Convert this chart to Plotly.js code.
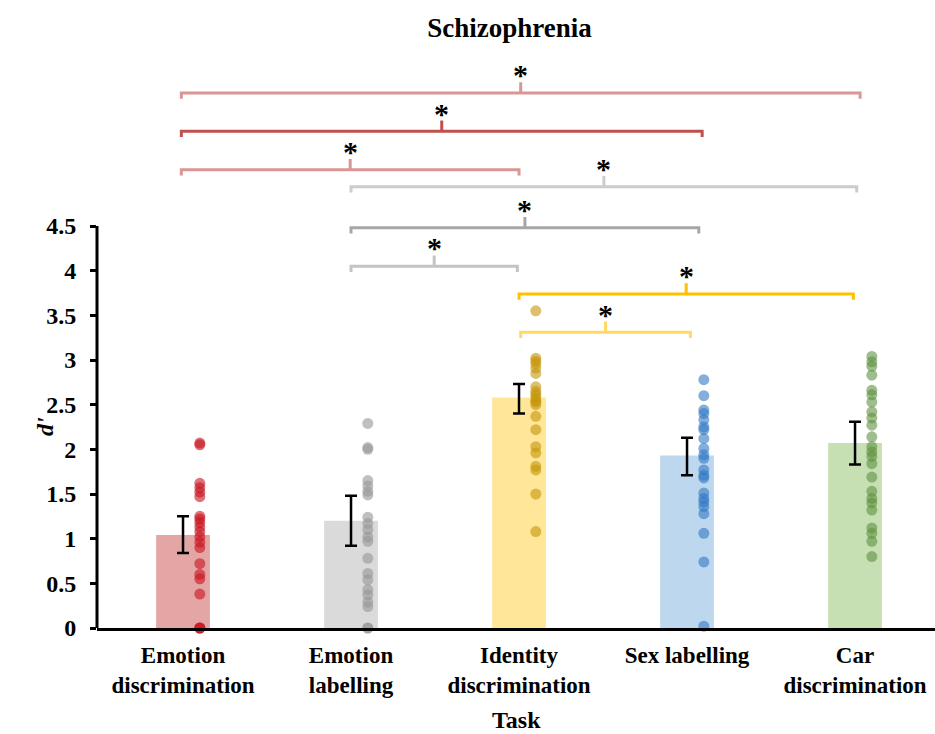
<!DOCTYPE html>
<html>
<head>
<meta charset="utf-8">
<script src="https://cdn.plot.ly/plotly-3.0.1.min.js"></script>
<style>html,body{margin:0;padding:0;background:#fff;}#chart{width:935px;height:734px;}</style>
</head>
<body>
<div id="chart"></div>
<script>
// ---- data ----
var categories = ["Emotion<br>discrimination", "Emotion<br>labelling", "Identity<br>discrimination", "Sex labelling", "Car<br>discrimination"];
var means = [1.04, 1.20, 2.58, 1.93, 2.07];
var errPlus = [0.21, 0.28, 0.15, 0.20, 0.24];
var errMinus = [0.20, 0.28, 0.18, 0.22, 0.24];

var emotionDiscrimination = [2.07, 2.05, 1.62, 1.57, 1.52, 1.47, 1.25, 1.22, 1.18, 1.13, 1.08, 1.02, 0.96, 0.90, 0.72, 0.60, 0.55, 0.38, 0, 0, 0];
var emotionLabelling = [2.29, 2.02, 2.00, 1.65, 1.59, 1.53, 1.49, 1.24, 1.17, 1.10, 1.02, 0.97, 0.78, 0.61, 0.54, 0.43, 0.37, 0.29, 0.24, 0, 0];
var identityDiscrimination = [3.55, 3.02, 2.99, 2.96, 2.91, 2.85, 2.70, 2.65, 2.62, 2.59, 2.55, 2.53, 2.50, 2.37, 2.22, 2.03, 1.96, 1.81, 1.77, 1.50, 1.08];
var sexLabelling = [2.78, 2.60, 2.44, 2.40, 2.33, 2.25, 2.22, 2.12, 2.01, 1.94, 1.90, 1.77, 1.71, 1.68, 1.51, 1.45, 1.41, 1.36, 1.28, 1.06, 0.74, 0.02];
var carDiscrimination = [3.04, 2.98, 2.93, 2.83, 2.66, 2.61, 2.53, 2.42, 2.35, 2.27, 2.14, 2.03, 1.97, 1.92, 1.84, 1.69, 1.53, 1.45, 1.40, 1.32, 1.12, 1.06, 0.97, 0.80];

var yTickVals = [0, 0.5, 1, 1.5, 2, 2.5, 3, 3.5, 4, 4.5];
var yTickText = ["0", "0.5", "1", "1.5", "2", "2.5", "3", "3.5", "4", "4.5"];

// significance comparisons (from task index, to task index)
var compFrom = [0, 0, 0, 1, 1, 1, 2, 2];
var compTo   = [4, 3, 2, 4, 3, 2, 4, 3];
var compLabel = ["*", "*", "*", "*", "*", "*", "*", "*"];

// ---- styling ----
var barColors = ["#e3a6a5", "#dadada", "#ffe699", "#bdd7ee", "#c6e0b4"];
var dotColors = ["rgba(200,20,30,0.6)", "rgba(150,150,150,0.6)", "rgba(196,150,10,0.6)", "rgba(50,120,195,0.6)", "rgba(95,145,65,0.6)"];
var compColors = ["rgba(192,80,77,0.6)", "#c0504d", "rgba(192,80,77,0.6)", "#cccccc", "#a6a6a6", "#c4c4c4", "#ffc000", "#ffd966"];
var compLevels = [5.99, 5.56, 5.13, 4.94, 4.48, 4.05, 3.74, 3.31];
var compEndShift = [[-0.01, 0.03], [-0.01, 0.09], [-0.01, 0.0], [0, 0.01], [0, 0.07], [0, -0.01], [0, -0.01], [0.01, 0.02]];

var allDots = [emotionDiscrimination, emotionLabelling, identityDiscrimination, sexLabelling, carDiscrimination];
var xIdx = categories.map(function (c, i) { return i; });

var serif = "Liberation Serif, Times New Roman, serif";

var traces = [{
  type: "bar",
  x: xIdx,
  y: means,
  width: 0.32,
  marker: { color: barColors },
  error_y: { type: "data", array: errPlus, arrayminus: errMinus, visible: true, color: "#000", thickness: 2.5, width: 6 },
  hoverinfo: "skip",
  showlegend: false
}];

allDots.forEach(function (vals, i) {
  traces.push({
    type: "scatter",
    mode: "markers",
    x: vals.map(function () { return i + 0.1; }),
    y: vals,
    marker: { color: dotColors[i], size: 11, line: { width: 0 } },
    cliponaxis: false,
    showlegend: false,
    hoverinfo: "y"
  });
});

var shapes = [];
var annotations = [];
var endDrop = 0.065, midRise = 0.12;
compFrom.forEach(function (f, k) {
  var x1 = f + compEndShift[k][0], x2 = compTo[k] + compEndShift[k][1];
  var y = compLevels[k];
  var xc = (x1 + x2) / 2;
  shapes.push({
    type: "path", xref: "x", yref: "y",
    path: "M" + x1 + "," + (y - endDrop) + " L" + x1 + "," + y + " L" + x2 + "," + y + " L" + x2 + "," + (y - endDrop) +
          " M" + xc + "," + y + " L" + xc + "," + (y + midRise),
    line: { color: compColors[k], width: 3 }
  });
  annotations.push({
    x: xc, y: y + midRise, xref: "x", yref: "y",
    text: compLabel[k], showarrow: false, yanchor: "bottom", yshift: -11,
    font: { family: serif, size: 30, color: "#000", weight: "bold" }
  });
});

// y axis title centred on the 0-4.5 span
annotations.push({
  x: 0, xref: "paper", xshift: -52, y: 2.25, yref: "y",
  text: "<b><i>d'</i></b>", textangle: -90, showarrow: false,
  xanchor: "center", yanchor: "middle",
  font: { family: serif, size: 24, color: "#000" }
});
// x axis title
annotations.push({
  x: 0.5, xref: "paper", y: -0.161, yref: "paper",
  text: "<b>Task</b>", showarrow: false, xanchor: "center", yanchor: "middle",
  font: { family: serif, size: 24, color: "#000" }
});

// y axis line only up to 4.5
shapes.push({ type: "line", xref: "paper", yref: "y", x0: 0, x1: 0, y0: 0, y1: 4.5, line: { color: "#000", width: 3 } });

var layout = {
  width: 935, height: 734,
  margin: { l: 97, r: 0, t: 56, b: 106 },
  paper_bgcolor: "#fff", plot_bgcolor: "#fff",
  title: { text: "<b>Schizophrenia</b>", x: 0.545, xanchor: "center", y: 0.962, yanchor: "middle", font: { family: serif, size: 27, color: "#000" } },
  xaxis: {
    range: [-0.512, 4.476],
    tickvals: xIdx, ticktext: categories.map(function (c) { return "<b>" + c + "</b>"; }),
    showgrid: false, zeroline: false,
    showline: true, linecolor: "#000", linewidth: 3,
    ticks: "", tickfont: { family: serif, size: 23, color: "#000" },
    ticklabelstandoff: 4
  },
  yaxis: {
    range: [0, 6.403],
    tickvals: yTickVals, ticktext: yTickText.map(function (t) { return "<b>" + t + "</b>"; }),
    showgrid: false, zeroline: false, showline: false,
    ticks: "outside", ticklen: 6, tickwidth: 3, tickcolor: "#000",
    tickfont: { family: serif, size: 24, color: "#000" },
    ticklabelstandoff: 9
  },
  shapes: shapes,
  annotations: annotations,
  showlegend: false
};

Plotly.newPlot("chart", traces, layout, { displayModeBar: false, staticPlot: true });
</script>
</body>
</html>
